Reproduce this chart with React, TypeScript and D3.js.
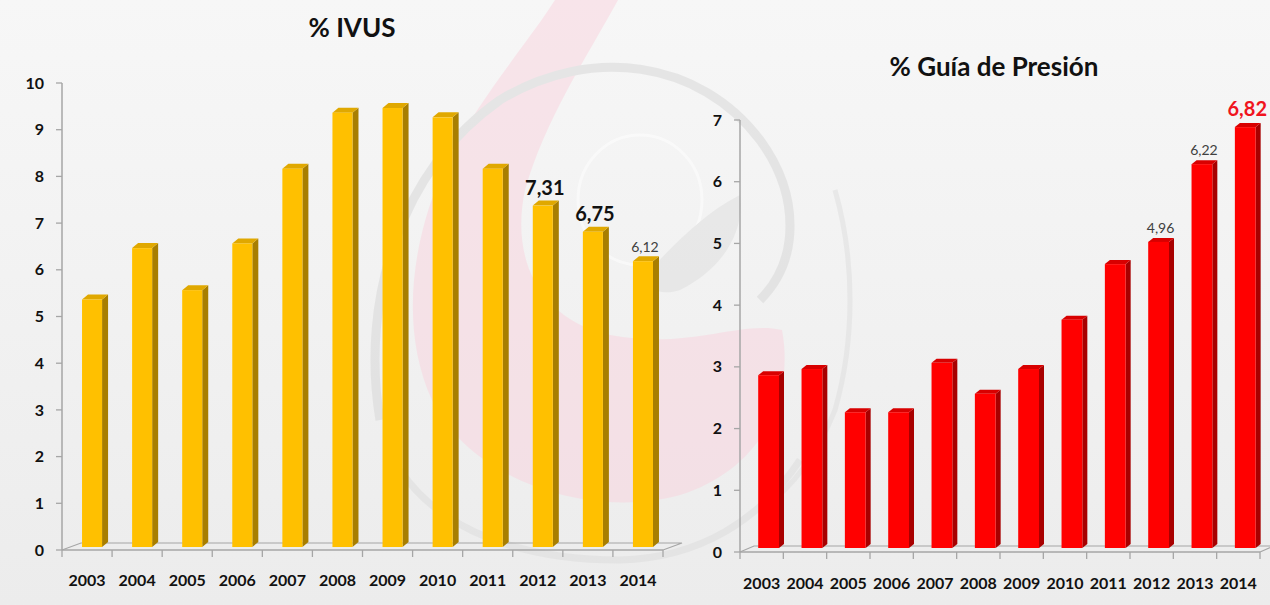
import React from 'react';
import { scaleBand, scaleLinear } from 'd3';

const years = ['2003', '2004', '2005', '2006', '2007', '2008', '2009', '2010', '2011', '2012', '2013', '2014'];
const ivus = [5.3, 6.4, 5.5, 6.5, 8.1, 9.3, 9.4, 9.2, 8.1, 7.31, 6.75, 6.12];
const guia = [2.8, 2.9, 2.2, 2.2, 3.0, 2.5, 2.9, 3.7, 4.6, 4.96, 6.22, 6.82];
const ivusTicks = [0, 1, 2, 3, 4, 5, 6, 7, 8, 9, 10];
const guiaTicks = [0, 1, 2, 3, 4, 5, 6, 7];

// which bars get a value label, and how
const ivusLabels = [
  { i: 9, text: '7,31', kind: 'big' },
  { i: 10, text: '6,75', kind: 'big' },
  { i: 11, text: '6,12', kind: 'small' },
];
const guiaLabels = [
  { i: 9, text: '4,96', kind: 'small' },
  { i: 10, text: '6,22', kind: 'small' },
  { i: 11, text: '6,82', kind: 'red' },
];

const FONT = 'Lato, "Open Sans", sans-serif';

type Cfg = {
  title: string;
  titleX: number;
  titleY: number;
  values: number[];
  ticks: number[];
  labels: { i: number; text: string; kind: string }[];
  x0: number;
  x1: number;
  yTop: number;
  yBottom: number;
  max: number;
  barOff: number;
  barW: number;
  dx: number;
  dy: number;
  lift: number;
  floorDx: number;
  floorDy: number;
  yearY: number;
  front: string;
  side: string;
  top: string;
};

function Chart({ c }: { c: Cfg }) {
  const x = scaleBand<string>().domain(years).range([c.x0, c.x1]).padding(0);
  const y = scaleLinear().domain([0, c.max]).range([c.yBottom, c.yTop]);
  const bw = x.bandwidth();
  const y0 = y(0);
  const axisColor = '#a6a6a6';

  return (
    <g>
      <text x={c.titleX} y={c.titleY} textAnchor="middle" fontFamily={FONT} fontWeight={700} fontSize={26} fill="#111">
        {c.title}
      </text>

      {/* floor */}
      <path
        d={`M${c.x0},${y0} L${c.x0 + c.floorDx},${y0 - c.floorDy} L${c.x1 + c.floorDx},${y0 - c.floorDy} L${c.x1},${y0}`}
        fill="none"
        stroke={axisColor}
        strokeWidth={1.2}
      />
      <line x1={c.x0} x2={c.x1} y1={y0} y2={y0} stroke={axisColor} strokeWidth={1.5} />
      {years.map((d, i) => (
        <line key={'xt' + d} x1={c.x0 + bw * i} x2={c.x0 + bw * i} y1={y0} y2={y0 + 7} stroke={axisColor} strokeWidth={1.3} />
      ))}
      <line x1={c.x1} x2={c.x1} y1={y0} y2={y0 + 7} stroke={axisColor} strokeWidth={1.3} />

      {/* y axis */}
      <line x1={c.x0} x2={c.x0} y1={y(c.max)} y2={y0} stroke={axisColor} strokeWidth={1.5} />
      {c.ticks.map(t => (
        <g key={'yt' + t}>
          <line x1={c.x0 - 6} x2={c.x0} y1={y(t)} y2={y(t)} stroke={axisColor} strokeWidth={1.3} />
          <text x={c.x0 - 18} y={y(t)} dy="0.35em" textAnchor="end" fontFamily={FONT} fontWeight={700} fontSize={16} fill="#111">
            {t}
          </text>
        </g>
      ))}

      {/* bars */}
      {c.values.map((v, i) => {
        const bx = (x(years[i]) as number) + c.barOff * bw;
        const w = c.barW * bw;
        const bot = y0 - c.lift;
        const tp = y(v) - c.lift;
        return (
          <g key={'b' + i}>
            <path
              d={`M${bx + w},${tp} L${bx + w + c.dx},${tp - c.dy} L${bx + w + c.dx},${bot - c.dy} L${bx + w},${bot} Z`}
              fill={c.side}
            />
            <path d={`M${bx},${tp} L${bx + c.dx},${tp - c.dy} L${bx + w + c.dx},${tp - c.dy} L${bx + w},${tp} Z`} fill={c.top} />
            <rect x={bx} y={tp} width={w} height={bot - tp} fill={c.front} />
          </g>
        );
      })}

      {/* value labels */}
      {c.labels.map(l => {
        const cx = (x(years[l.i]) as number) + c.barOff * bw + (c.barW * bw) / 2 + 2;
        const big = l.kind !== 'small';
        return (
          <text
            key={'l' + l.i}
            x={cx}
            y={y(c.values[l.i]) - c.lift - (big ? 11 : 9)}
            textAnchor="middle"
            fontFamily={FONT}
            fontWeight={big ? 700 : 400}
            fontSize={big ? 20 : 14}
            fill={l.kind === 'red' ? '#f0141e' : big ? '#111' : '#404040'}
          >
            {l.text}
          </text>
        );
      })}

      {/* year labels */}
      {years.map(d => (
        <text
          key={'yl' + d}
          x={(x(d) as number) + bw / 2}
          y={c.yearY}
          dy="0.35em"
          textAnchor="middle"
          fontFamily={FONT}
          fontWeight={700}
          fontSize={16}
          fill="#111"
        >
          {d}
        </text>
      ))}
    </g>
  );
}

const left: Cfg = {
  title: '% IVUS',
  titleX: 352,
  titleY: 37,
  values: ivus,
  ticks: ivusTicks,
  labels: ivusLabels,
  x0: 62,
  x1: 663,
  yTop: 83,
  yBottom: 550,
  max: 10,
  barOff: 0.4,
  barW: 0.4,
  dx: 6,
  dy: 5,
  lift: 3,
  floorDx: 19,
  floorDy: 7,
  yearY: 580,
  front: '#ffc000',
  side: '#a87e00',
  top: '#e0a800',
};

const right: Cfg = {
  title: '% Guía de Presión',
  titleX: 994,
  titleY: 76,
  values: guia,
  ticks: guiaTicks,
  labels: guiaLabels,
  x0: 740,
  x1: 1260,
  yTop: 120,
  yBottom: 552,
  max: 7,
  barOff: 0.42,
  barW: 0.48,
  dx: 5,
  dy: 4,
  lift: 4,
  floorDx: 14,
  floorDy: 6,
  yearY: 583,
  front: '#ff0000',
  side: '#a80000',
  top: '#d80000',
};

export default function App() {
  return (
    <div style={{ position: 'absolute', left: 0, top: 0 }}>
      <svg width={1270} height={605} style={{ display: 'block' }}>
        <defs>
          <linearGradient id="bg" x1="0" y1="0" x2="0" y2="1">
            <stop offset="0" stopColor="#f7f7f7" />
            <stop offset="1" stopColor="#ececec" />
          </linearGradient>
        </defs>
        <rect width={1270} height={605} fill="url(#bg)" />
        {/* faint watermark */}
        <g opacity={0.5}>
          <path
            d="M555,0 L618,0 C585,60 545,120 525,190 C510,260 540,320 610,335 C690,350 740,320 782,330 C795,400 760,470 680,495 C590,520 470,480 432,400 C400,330 410,240 448,160 C478,100 530,40 555,0 Z"
            fill="#f9d3de"
          />
          <path
            d="M380,420 C360,300 400,170 500,100 C590,45 700,60 760,140 C800,195 800,260 760,300"
            fill="none"
            stroke="#d6d6d6"
            strokeWidth={9}
          />
          <path d="M400,470 C440,530 520,560 620,560 C700,558 760,520 800,460" fill="none" stroke="#dcdcdc" strokeWidth={7} />
          <ellipse cx={640} cy={200} rx={62} ry={65} fill="none" stroke="#ffffff" strokeWidth={3} />
          <path d="M640,280 C670,250 700,215 740,195 C745,235 720,270 680,290 C665,295 650,292 640,280 Z" fill="#dedede" />
          <path d="M835,190 C855,260 855,340 835,410 C815,460 790,490 760,510" fill="none" stroke="#dedede" strokeWidth={5} />
        </g>
        <Chart c={left} />
        <Chart c={right} />
      </svg>
    </div>
  );
}
